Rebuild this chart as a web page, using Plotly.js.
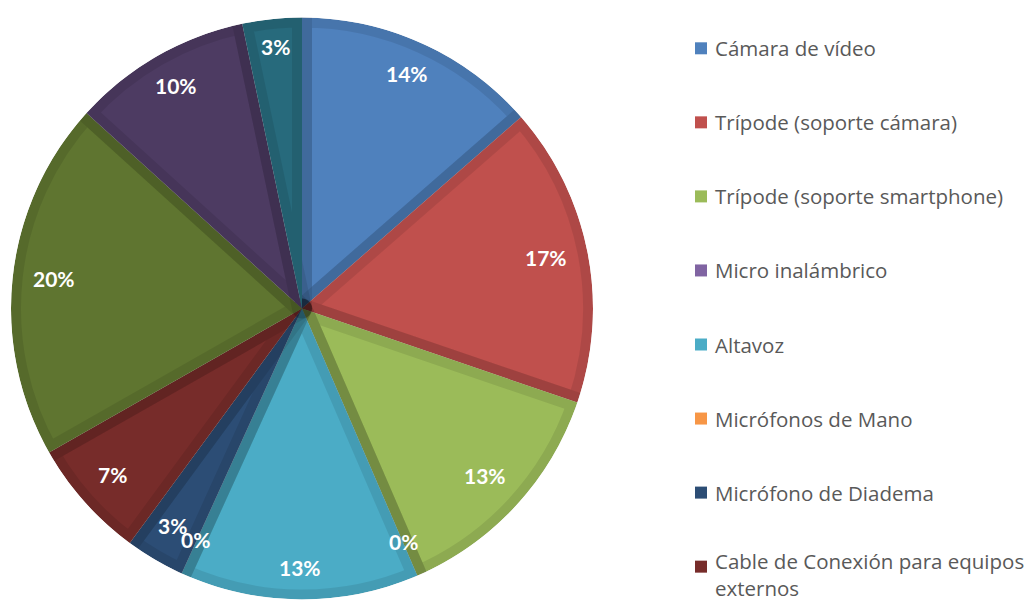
<!DOCTYPE html>
<html><head><meta charset="utf-8">
<script src="https://cdn.plot.ly/plotly-3.0.1.min.js"></script>
<style>html,body{margin:0;padding:0;overflow:hidden;background:#fff}#chart{width:1030px;height:620px}</style>
</head><body><div id="chart"></div>
<script>
// Data
const categories = [
  "Cámara de vídeo",
  "Trípode (soporte cámara)",
  "Trípode (soporte smartphone)",
  "Micro inalámbrico",
  "Altavoz",
  "Micrófonos de Mano",
  "Micrófono de Diadema",
  "Cable de Conexión para equipos externos",
  "Iluminación",
  "Tarjeta de memoria",
  "Otros"
];
const values = [13.6, 16.7, 13.3, 0, 13.3, 0, 3.3, 6.7, 20, 10, 3.3];
const colors = ["#4F81BD","#C0504D","#9BBB59","#8064A2","#4BACC6","#F79646",
                "#2C4D75","#772C2A","#5F7530","#4D3B62","#276A7C"];

// Layout geometry
const W = 1030, H = 620, VIEW_H = 604;
const cx = 302, cy = 308.5, R = 291, RING = 11;
const dom = (r) => ({
  x: [(cx - r) / W, (cx + r) / W],
  y: [(H - cy - r) / H, (H - cy + r) / H]
});

const pie = {
  type: 'pie',
  labels: categories,
  values: values,
  sort: false,
  direction: 'clockwise',
  rotation: 0,
  marker: { colors: colors, line: { color: 'rgba(0,0,0,0.09)', width: 20 } },
  textinfo: 'none',
  domain: dom(R),
  showlegend: false,
  hoverinfo: 'label+percent'
};

const ring = {
  type: 'pie',
  labels: ['_ring'],
  values: [1],
  hole: R / (R + RING),
  sort: false,
  marker: { colors: ['#ffffff'], line: { width: 0 } },
  textinfo: 'none',
  hoverinfo: 'skip',
  showlegend: false,
  domain: dom(R + RING)
};

const annotations = [], shapes = [];

// Data labels (Excel "inside end" style), positioned from the slice angles
const total = values.reduce((a, b) => a + b, 0);
let cum = 0;
const LAB_R = 270, LAB_H = 16;
values.forEach((v, i) => {
  const mid = (cum + v / 2) / total * 2 * Math.PI;
  cum += v;
  const txt = Math.round(v / total * 100) + '%';
  const w = 10 * (txt.length - 1) + 20;
  const sx = Math.sin(mid), sy = -Math.cos(mid);
  const r = LAB_R - (Math.abs(sx) * w / 2 + Math.abs(sy) * LAB_H / 2);
  annotations.push({
    xref: 'paper', yref: 'paper',
    x: (cx + r * sx) / W, y: 1 - (cy + r * sy) / H,
    xanchor: 'center', yanchor: 'middle', showarrow: false, yshift: 3,
    text: txt,
    font: { family: 'Lato, "Open Sans", sans-serif', size: 21, color: '#ffffff', weight: 'bold' }
  });
});

// Manual legend (Excel style, clipped by page bottom)
function wrap(t, n) {
  if (t.length <= n) return t;
  const idx = t.lastIndexOf(' ', n);
  return t.slice(0, idx) + '<br>' + t.slice(idx + 1);
}
const legTop = 48.3, legStep = 74.05, legX = 695, sq = 12;
categories.forEach((c, i) => {
  const yc = legTop + i * legStep;
  if (yc > VIEW_H) return; // entries below the visible area are clipped
  shapes.push({
    type: 'rect', xref: 'paper', yref: 'paper',
    x0: legX / W, x1: (legX + sq) / W,
    y0: 1 - (yc + sq / 2) / H, y1: 1 - (yc - sq / 2) / H,
    fillcolor: colors[i], line: { width: 0 }
  });
  const txt = wrap(c, 31);
  const multi = txt.indexOf('<br>') >= 0;
  annotations.push({
    xref: 'paper', yref: 'paper', x: (legX + sq + 6) / W,
    y: multi ? 1 - VIEW_H / H : 1 - yc / H,
    xanchor: 'left', yanchor: multi ? 'bottom' : 'middle', align: 'left',
    showarrow: false, text: txt,
    font: { family: '"Open Sans", sans-serif', size: 20.5, color: '#595959' }
  });
});

const layout = {
  width: W, height: H,
  margin: { l: 0, r: 0, t: 0, b: 0 },
  paper_bgcolor: '#ffffff', plot_bgcolor: '#ffffff',
  showlegend: false,
  annotations: annotations,
  shapes: shapes
};

Plotly.newPlot('chart', [pie, ring], layout, { displayModeBar: false, staticPlot: true });
</script>
</body></html>
